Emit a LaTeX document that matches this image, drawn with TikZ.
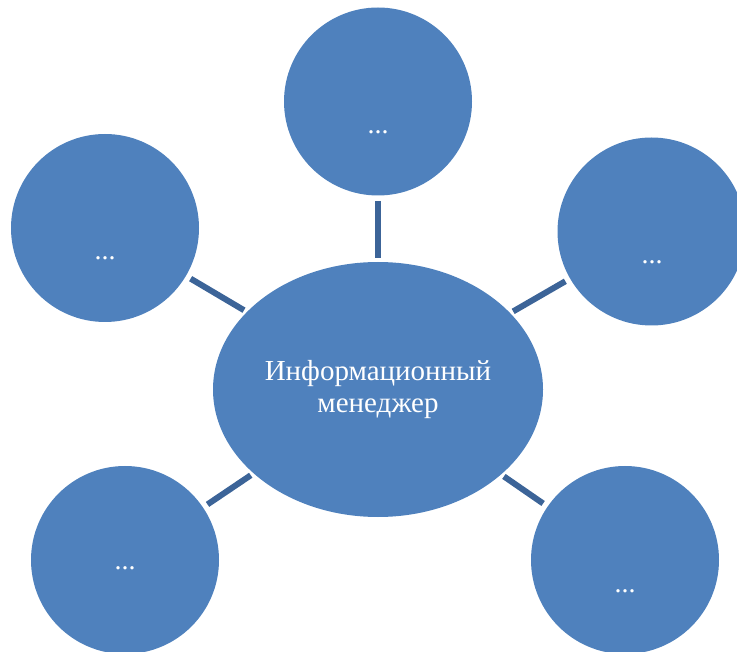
\documentclass[tikz,border=0pt]{standalone}
\usepackage{fontspec}
\setmainfont{Liberation Serif}
\usetikzlibrary{shapes.geometric}
\definecolor{bubble}{RGB}{79,129,189}
\definecolor{spoke}{RGB}{60,100,152}
\tikzset{
  leaf/.style={circle, fill=bubble, draw=none, minimum size=188pt, inner sep=0pt, outer sep=0pt},
  hub/.style={ellipse, fill=bubble, draw=none, minimum width=330pt, minimum height=255pt,
    inner sep=0pt, outer sep=0pt, text=white, align=center,
    font=\fontsize{29}{32}\selectfont},
  dots/.style={text=white, inner sep=0pt, font=\fontsize{28}{32}\selectfont},
  link/.style={draw=spoke, line width=6pt, shorten <=5.5pt, shorten >=3.5pt}
}
\begin{document}
\begin{tikzpicture}[x=1pt, y=-1pt]
  \useasboundingbox (0,0) rectangle (737,652);
  \clip (0,0) rectangle (737,652);

  % central ellipse
  \node[hub] (hub) at (378,389.5) {Информационный\\менеджер};

  % surrounding circles
  \node[leaf] (top)  at (378,101.5) {};
  \node[leaf] (left) at (105,228) {};
  \node[leaf] (right) at (651.5,231.5) {};
  \node[leaf] (bl)   at (125,560) {};
  \node[leaf] (br)   at (625,560) {};

  % placeholder labels inside the circles
  \node[dots] (ttop)   at (378,132)   {...};
  \node[dots] (tleft)  at (105,258)   {...};
  \node[dots] (tright) at (652,262)   {...};
  \node[dots] (tbl)    at (125,568)   {...};
  \node[dots] (tbr)    at (625,591)   {...};

  % spokes
  \draw[link] (top)   -- (hub);
  \draw[link] (left)  -- (hub);
  \draw[link] (right) -- (hub);
  \draw[link] (bl)    -- (hub);
  \draw[link] (br)    -- (hub);
\end{tikzpicture}
\end{document}
